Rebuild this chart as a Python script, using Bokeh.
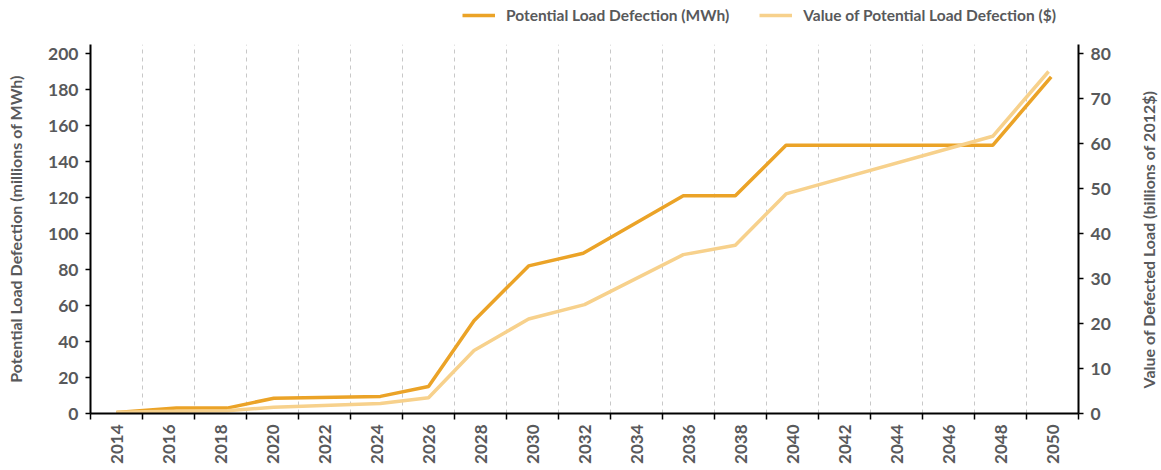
import math
from bokeh.plotting import figure
from bokeh.layouts import column, row
from bokeh.models import Range1d, LinearAxis, FixedTicker, Legend, LegendItem, Label
from bokeh.embed import file_html
from bokeh.resources import INLINE

# ---- data ----
years_mwh = [2014.0, 2016.3, 2018.25, 2020.05, 2024.15, 2026.0, 2027.75,
             2029.85, 2031.95, 2035.8, 2037.8, 2039.75, 2047.7, 2049.95]
load_mwh = [0.5, 3.0, 3.0, 8.5, 9.5, 15.0, 51.5,
            82.0, 89.0, 121.0, 121.0, 149.0, 149.0, 187.0]

years_val = [2014.0, 2016.3, 2018.25, 2020.05, 2024.15, 2026.0, 2027.75,
             2029.85, 2032.0, 2035.8, 2037.8, 2039.75, 2047.7, 2049.85]
load_val = [0.3, 0.5, 0.6, 1.4, 2.2, 3.5, 14.0,
            21.0, 24.2, 35.3, 37.4, 48.8, 61.6, 76.0]

label_years = list(range(2014, 2051, 2))
boundary_years = list(range(2013, 2052, 2))
left_ticks = list(range(0, 201, 20))
right_ticks = list(range(0, 81, 10))

series_names = ["Potential Load Defection (MWh)", "Value of Potential Load Defection ($)"]
left_title = "Potential Load Defection (millions of MWh)"
right_title = "Value of Defected Load (billions of 2012$)"

FONT = "Lato"
TXT = "#58595b"
ORANGE = "#EBA327"
LIGHT = "#F7D18C"

# ---------------- legend strip ----------------
lg = figure(width=1160, height=36, output_backend="svg", toolbar_location=None,
            x_axis_location=None, y_axis_location=None,
            x_range=Range1d(0, 1), y_range=Range1d(0, 1),
            min_border_left=90, min_border_right=82, min_border_top=0, min_border_bottom=0)
lg.outline_line_color = None
lg.grid.grid_line_color = None
# the series drawn outside this strip's range: only their legend swatches show
l1 = lg.line(years_mwh, load_mwh, line_color=ORANGE, line_width=3.5)
l2 = lg.line(years_val, load_val, line_color=LIGHT, line_width=3.5)
legend = Legend(items=[LegendItem(label=series_names[0], renderers=[l1]),
                       LegendItem(label=series_names[1], renderers=[l2])],
                orientation="horizontal", location=(372, 11),
                border_line_color=None, background_fill_alpha=0,
                padding=0, margin=0, spacing=30, glyph_width=33, glyph_height=20,
                label_standoff=11, label_height=20,
                label_text_font=FONT, label_text_font_style="bold",
                label_text_font_size="15.5px", label_text_color=TXT)
lg.add_layout(legend)

# ---------------- main chart ----------------
p = figure(width=1130, height=433, output_backend="svg", toolbar_location=None,
           x_range=Range1d(2013, 2051), y_range=Range1d(0, 205),
           min_border_left=90, min_border_top=8, min_border_right=52,
           min_border_bottom=56)
p.outline_line_color = None
p.extra_y_ranges = {"right": Range1d(0, 82)}

xt = FixedTicker(ticks=label_years, minor_ticks=boundary_years)
xa = p.xaxis[0]
xa.ticker = xt
xa.major_tick_line_color = None
xa.minor_tick_line_color = "black"
xa.minor_tick_line_width = 1.5
xa.minor_tick_out = 6
xa.minor_tick_in = 0
xa.axis_line_width = 2
xa.axis_line_color = "black"
xa.major_label_orientation = math.pi / 2
xa.major_label_text_font = FONT
xa.major_label_text_font_style = "bold"
xa.major_label_text_font_size = "17px"
xa.major_label_text_color = TXT
xa.major_label_standoff = 5

p.xgrid.ticker = xt
p.xgrid.grid_line_color = None
p.xgrid.minor_grid_line_color = "#c8c8c8"
p.xgrid.minor_grid_line_dash = "4 4"
p.xgrid.minor_grid_line_width = 1
p.ygrid.grid_line_color = None

def style_y(ax):
    ax.axis_line_width = 2
    ax.axis_line_color = "black"
    ax.major_tick_line_color = "black"
    ax.major_tick_line_width = 1.5
    ax.major_tick_out = 5
    ax.major_tick_in = 0
    ax.minor_tick_line_color = None
    ax.major_label_text_font = FONT
    ax.major_label_text_font_style = "bold"
    ax.major_label_text_font_size = "17.5px"
    ax.major_label_text_color = TXT
    ax.major_label_standoff = 7
    ax.axis_label_text_font = FONT
    ax.axis_label_text_font_style = "bold"
    ax.axis_label_text_font_size = "16px"
    ax.axis_label_text_color = TXT

ya = p.yaxis[0]
ya.ticker = FixedTicker(ticks=left_ticks)
style_y(ya)
ya.axis_label = left_title
ya.axis_label_standoff = 20

ra = LinearAxis(y_range_name="right", ticker=FixedTicker(ticks=right_ticks))
style_y(ra)
p.add_layout(ra, "right")

p.line(years_mwh, load_mwh, line_color=ORANGE, line_width=3.5)
p.line(years_val, load_val, line_color=LIGHT, line_width=3.5, y_range_name="right")

# ---------------- right axis title strip ----------------
rt = figure(width=30, height=433, output_backend="svg", toolbar_location=None,
            x_axis_location=None, y_axis_location=None,
            x_range=Range1d(0, 1), y_range=Range1d(0, 1),
            min_border_left=0, min_border_right=0, min_border_top=8, min_border_bottom=56)
rt.outline_line_color = None
rt.grid.grid_line_color = None
rt.add_layout(Label(x=18, y=174, x_units="screen", y_units="screen", text=right_title,
                    angle=math.pi / 2, text_align="center", text_baseline="middle",
                    text_font=FONT, text_font_style="bold", text_font_size="16px",
                    text_color=TXT))

layout = column(lg, row(p, rt, spacing=0), spacing=0)
open("out.html", "w").write(file_html(layout, INLINE))
